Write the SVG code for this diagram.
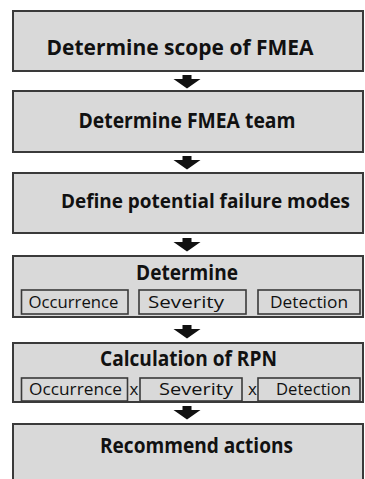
<svg xmlns="http://www.w3.org/2000/svg" width="365" height="479" viewBox="0 0 365 479">
<style>
.box{fill:#d9d9d9;stroke:#3a3a3a;stroke-width:2}
.sub{fill:#d9d9d9;stroke:#3a3a3a;stroke-width:1.6}
.t{font-family:"Open Sans","Liberation Sans",sans-serif;font-weight:bold;font-size:21px;fill:#111;text-anchor:middle}
.s{font-family:"Open Sans","Liberation Sans",sans-serif;font-size:17px;fill:#111;text-anchor:middle}
.arr{fill:#111}
</style>
<defs>
<path id="ar" d="M-4.5,0 H4.5 V4 H13.5 L0,13.5 L-13.5,4 H-4.5 Z"/>
</defs>
<rect width="365" height="479" fill="#fff"/>
<g id="n1">
<rect class="box" x="13" y="11" width="350" height="60"/>
<text class="t" x="180" y="55" textLength="267" lengthAdjust="spacingAndGlyphs">Determine scope of FMEA</text>
</g>
<g id="n2">
<rect class="box" x="13" y="91" width="350" height="61"/>
<text class="t" x="187" y="128" textLength="217" lengthAdjust="spacingAndGlyphs">Determine FMEA team</text>
</g>
<g id="n3">
<rect class="box" x="13" y="173" width="350" height="60"/>
<text class="t" x="205.5" y="208" style="font-size:19.5px" textLength="289" lengthAdjust="spacingAndGlyphs">Define potential failure modes</text>
</g>
<g id="n4">
<rect class="box" x="13" y="256" width="350" height="61"/>
<text class="t" x="187" y="280" textLength="102" lengthAdjust="spacingAndGlyphs">Determine</text>
<rect class="sub" x="21.5" y="290" width="106.5" height="24"/>
<rect class="sub" x="139" y="290" width="107" height="24"/>
<rect class="sub" x="258" y="290" width="102" height="24"/>
<text class="s" x="73.5" y="308" textLength="90" lengthAdjust="spacingAndGlyphs">Occurrence</text>
<text class="s" x="186" y="308" textLength="76" lengthAdjust="spacingAndGlyphs">Severity</text>
<text class="s" x="309" y="308" textLength="78" lengthAdjust="spacingAndGlyphs">Detection</text>
</g>
<g id="n5">
<rect class="box" x="13" y="343" width="350" height="59"/>
<text class="t" x="188.5" y="366" textLength="177" lengthAdjust="spacingAndGlyphs">Calculation of RPN</text>
<rect class="sub" x="21.5" y="378" width="106" height="23"/>
<text class="s" x="134" y="395">x</text>
<rect class="sub" x="140" y="378" width="102" height="23"/>
<text class="s" x="252.5" y="395">x</text>
<rect class="sub" x="258" y="378" width="102" height="23"/>
<text class="s" x="75.5" y="395" textLength="93" lengthAdjust="spacingAndGlyphs">Occurrence</text>
<text class="s" x="196" y="395" textLength="74" lengthAdjust="spacingAndGlyphs">Severity</text>
<text class="s" x="313.5" y="395" textLength="75" lengthAdjust="spacingAndGlyphs">Detection</text>
</g>
<g id="n6">
<rect class="box" x="13" y="424" width="350" height="70"/>
<text class="t" x="196.5" y="453" textLength="193" lengthAdjust="spacingAndGlyphs">Recommend actions</text>
</g>
<g id="connectors" class="arr">
<use href="#ar" x="187" y="75"/>
<use href="#ar" x="187" y="156"/>
<use href="#ar" x="187" y="238"/>
<use href="#ar" x="187" y="325"/>
<use href="#ar" x="187" y="406"/>
</g>
</svg>
